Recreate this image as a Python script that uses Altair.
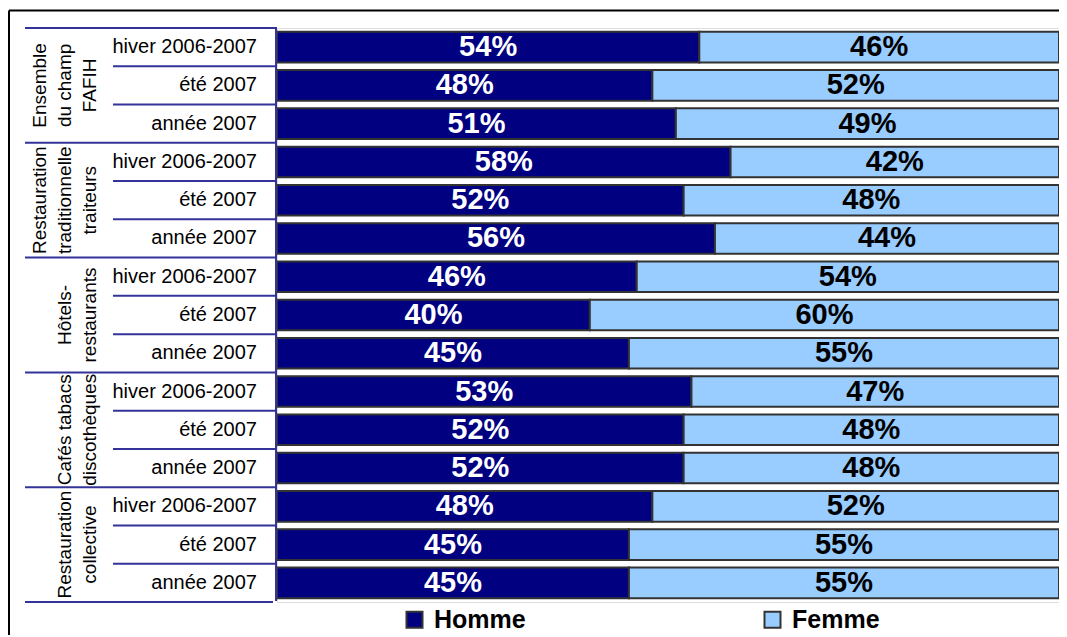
import altair as alt
import pandas as pd

# ---------------- data ----------------
groups = ["Ensemble du champ FAFIH", "Restauration traditionnelle traiteurs",
          "Hôtels-restaurants", "Cafés tabacs discothèques", "Restauration collective"]
group_labels = ["Ensemble\ndu champ\nFAFIH", "Restauration\ntraditionnelle\ntraiteurs",
                "\nHôtels-\nrestaurants", "\nCafés tabacs\ndiscothèques", "\nRestauration\ncollective"]
periods = ["hiver 2006-2007", "été 2007", "année 2007"]
sexes = ["Homme", "Femme"]
homme = [54, 48, 51, 58, 52, 56, 46, 40, 45, 53, 52, 52, 48, 45, 45]
femme = [46, 52, 49, 42, 48, 44, 54, 60, 55, 47, 48, 48, 52, 55, 55]
colors = ["#000080", "#99CCFF"]

FONT = "Liberation Sans"

keys, row_recs, bar_recs, grp_recs = [], [], [], []
i = 0
for gi, g in enumerate(groups):
    for pi, p in enumerate(periods):
        k = f"{gi}|{p}"
        keys.append(k)
        row_recs.append({"key": k, "period": p, "first": pi == 0,
                         "last": (gi == len(groups) - 1 and pi == len(periods) - 1)})
        for si, (s, v) in enumerate(zip(sexes, [homme[i], femme[i]])):
            bar_recs.append({"key": k, "sex": s, "sex_order": si, "value": v})
        i += 1
    grp_recs.append({"key": f"{gi}|{periods[1]}", "label": group_labels[gi]})

bar_df = pd.DataFrame(bar_recs)
row_df = pd.DataFrame(row_recs)
grp_df = pd.DataFrame(grp_recs)

W, H = 782, 574
LINE = "#333399"

y_main = alt.Y("key:N", sort=keys, axis=None,
               scale=alt.Scale(paddingInner=0, paddingOuter=0))
y_plain = alt.Y("key:N", sort=keys, axis=None)
x_scale = alt.Scale(domain=[0, 100], nice=False, zero=False)

base = (alt.Chart(bar_df)
        .transform_stack(stack="value", groupby=["key"], as_=["x0", "x1"],
                         sort=[alt.SortField("sex_order", order="ascending")])
        .transform_calculate(mid="(datum.x0 + datum.x1) / 2",
                             lab="datum.value + '%'"))

bars = base.mark_bar(height=alt.RelativeBandSize(0.8), stroke="#333333",
                     strokeWidth=2).encode(
    x=alt.X("x0:Q", scale=x_scale, axis=None),
    x2="x1:Q",
    y=y_main,
    color=alt.Color("sex:N", scale=alt.Scale(domain=sexes, range=colors),
                    legend=alt.Legend(
                        orient="none", legendX=125, legendY=579,
                        direction="horizontal", columns=2, title=None,
                        symbolType="square", symbolSize=256,
                        symbolStrokeColor="#333333", symbolStrokeWidth=2,
                        symbolOpacity=1,
                        labelFont=FONT, labelFontSize=25, labelFontWeight="bold",
                        labelColor="black", labelOffset=7, columnPadding=234,
                        padding=0)),
)

pct = base.mark_text(font=FONT, fontSize=29, fontWeight="bold",
                     baseline="middle", align="center").encode(
    x=alt.X("mid:Q", scale=x_scale, axis=None),
    y=y_plain,
    text="lab:N",
    color=alt.condition(alt.datum.sex == "Homme", alt.value("white"), alt.value("black")),
)

row_text = alt.Chart(row_df).mark_text(font=FONT, fontSize=20, align="right",
                                       baseline="middle", color="black").encode(
    x=alt.value(-20), y=y_plain, text="period:N")

grp_text = alt.Chart(grp_df).mark_text(font=FONT, fontSize=19, align="center",
                                       baseline="bottom", angle=270, lineHeight=25,
                                       lineBreak="\n", color="black").encode(
    x=alt.value(-227), y=y_plain, text="label:N")

row_lines = alt.Chart(row_df).transform_filter("!datum.first").mark_rule(
    color=LINE, strokeWidth=2).encode(
    x=alt.value(-164), x2=alt.value(0),
    y=alt.Y("key:N", sort=keys, axis=None, bandPosition=0))

grp_lines = alt.Chart(row_df).transform_filter("datum.first").mark_rule(
    color=LINE, strokeWidth=2).encode(
    x=alt.value(-252), x2=alt.value(0),
    y=alt.Y("key:N", sort=keys, axis=None, bandPosition=0))

end_line = alt.Chart(row_df).transform_filter("datum.last").mark_rule(
    color=LINE, strokeWidth=2).encode(
    x=alt.value(-252), x2=alt.value(-4),
    y=alt.Y("key:N", sort=keys, axis=None, bandPosition=1))

one = alt.Data(values=[{"a": 1}])
vline = alt.Chart(one).mark_rule(color=LINE, strokeWidth=2).encode(
    x=alt.value(-1), y=alt.value(0), y2=alt.value(H - 1))

frame_top = alt.Chart(one).mark_rule(color="black", strokeWidth=2).encode(
    x=alt.value(-268), x2=alt.value(W + 20), y=alt.value(-17.5))
frame_left = alt.Chart(one).mark_rule(color="black", strokeWidth=2).encode(
    x=alt.value(-268), y=alt.value(-17.5), y2=alt.value(H + 60))

chart = alt.layer(
    frame_top, frame_left, bars, pct, row_lines, grp_lines, end_line, vline,
    row_text, grp_text
).properties(
    width=W, height=H,
    autosize=alt.AutoSizeParams(type="none"),
    padding={"left": 269, "top": 20, "right": 0, "bottom": 33},
).configure_view(stroke=None).configure(font=FONT)

chart.save("out.html", embed_options={"renderer": "svg", "actions": False})
